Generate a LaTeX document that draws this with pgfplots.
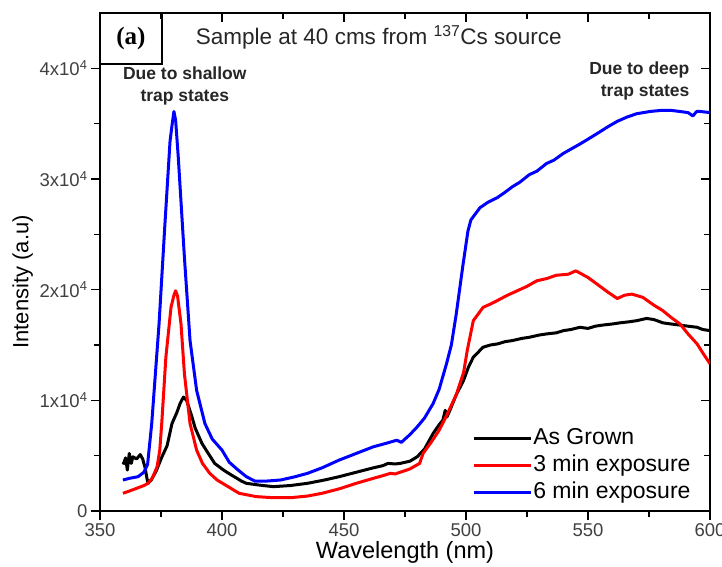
\documentclass[border=0pt]{standalone}
\usepackage{pgfplots}
\pgfplotsset{compat=1.18}
\usepackage{fontspec}
\setmainfont{Liberation Sans}
\newfontfamily\serifbold{Liberation Serif}
\begin{document}
\begin{tikzpicture}
\begin{axis}[
  scale only axis, width=610bp, height=498bp,
  xmin=350, xmax=600, ymin=0, ymax=45000,
  axis line style={line width=1.6bp},
  xtick={350,400,450,500,550,600},
  minor xtick={375,425,475,525,575},
  ytick={0,10000,20000,30000,40000},
  minor ytick={5000,15000,25000,35000},
  yticklabels={0,1x10\textsuperscript{4},2x10\textsuperscript{4},3x10\textsuperscript{4},4x10\textsuperscript{4}},
  scaled y ticks=false,
  xtick pos=lower, ytick pos=left,
  tick align=outside,
  major tick length=9bp, minor tick length=6bp,
  every tick/.style={black, line width=1.4bp},
  /pgf/number format/assume math mode=true,
  tick label style={font=\fontsize{18.5bp}{20bp}\selectfont, text=black!75},
  xlabel={Wavelength (nm)}, ylabel={Intensity (a.u)},
  xlabel style={font=\fontsize{23.5bp}{25bp}\selectfont, yshift=2bp},
  ylabel style={font=\fontsize{22bp}{24bp}\selectfont, at={(ticklabel cs:0.46)}},
  legend style={draw=none, fill=none, at={(rel axis cs:0.97,0.005)}, anchor=south east,
    font=\fontsize{23bp}{25bp}\selectfont, row sep=0bp, inner xsep=0pt,
    nodes={inner xsep=1bp, inner ysep=0bp, text height=19bp, text depth=8bp}},
  legend cell align=left,
  legend image code/.code={\draw[#1, line width=3bp] (0bp,0bp) -- (57bp,0bp);},
  every axis plot/.append style={line width=3bp, line join=round},
  clip=true,
]
\addplot[black] coordinates {
(359.5,4200)(360.5,4800)(361.2,3700)(362,5200)(362.8,4300)(363.5,4900)(365,4700)(366.5,5100)(367.5,4700)(368.5,3900)(369.2,3000)(369.7,2500)
(371,2800)(373,3600)(375.4,4900)(377.5,5900)(379.5,7900)(381.5,8900)(382.8,9700)(384.2,10300)(385.5,10000)(387.7,8500)(389,7500)(391.8,6100)(393.8,5400)(397,4300)(400,3800)(402,3500)(405,3100)(408,2700)(410,2500)
(415,2350)(421,2200)(428,2300)(435,2500)(442,2800)(448,3100)(455,3500)(462,3900)(466,4100)(468,4300)(471,4250)(473,4300)(477,4500)(480,4900)(483,5600)(486.5,7000)(489,7800)(490.5,8200)(491.5,9100)(492.2,8500)(493.4,9100)
(496,10500)(499,11800)(501,13000)(503,13900)(507,14800)(510,15000)(513,15100)(516,15300)(519,15400)(523,15600)(526,15700)(530,15900)(533,16000)(537,16100)(540,16300)(543,16400)(546.7,16600)(550,16500)(553,16700)(556,16800)(560,16900)(563,17000)(567,17100)(570,17200)(574,17400)(577,17300)(580.7,17000)(584,16900)(587.7,16800)(591,16700)(594.7,16600)(597,16400)(600,16300)
};
\addlegendentry{As Grown}
\addplot[red] coordinates {
(359.4,1600)(362,1800)(365.6,2100)(368,2300)(369.7,2500)(371.5,3000)(373.4,4000)(374.5,5500)(375.3,7900)(377,13900)(379.1,18400)(380.3,19500)(381,19900)(381.8,19400)(383.2,16900)(384.6,12400)(386.9,7900)(389.6,5500)(392,4300)(395,3400)(398,2800)(402.5,2200)(407,1600)
(414,1300)(421,1200)(428,1200)(435,1350)(441,1600)(448,2000)(455,2500)(462,2950)(466,3200)(469,3400)(471,3350)(473,3500)(477,3800)(481,4300)(482.4,5200)(486,6300)(489,7300)(492,8600)(496,10500)(499,12500)(500.5,14500)(503,17200)(507,18400)(510,18700)(512.7,19000)(517,19500)(521,19900)(525,20300)(529,20800)(533,21000)(537,21300)(542,21400)(545,21700)(546.7,21500)(550,21100)(553.7,20500)(558,19800)(562,19200)(565,19500)(568,19600)(572.5,19300)(577,18600)(580.7,18100)(584,17500)(587.7,16900)(591,16000)(594.7,15100)(597,14300)(600,13300)
};
\addlegendentry{3 min exposure}
\addplot[blue] coordinates {
(359.4,2800)(362,2950)(365.6,3100)(368,3500)(369.5,4200)(371.2,7900)(374.2,16900)(376.6,25900)(378.7,33400)(379.6,35000)(380.3,36100)(381,35300)(382.1,31900)(384.6,22900)(386.9,15400)(389.6,10900)(393,7900)(396,6500)(400,5500)(403,4400)(406.6,3700)(410,3100)(413.5,2700)
(418,2700)(424,2800)(430,3100)(435,3400)(441,3900)(448,4600)(455,5200)(462,5800)(467,6100)(471.7,6400)(473.5,6200)(477,6900)(480,7600)(483,8400)(486.5,9700)(489,11000)(492,13300)(494,15000)(496,17800)(498.8,22300)(500.8,25300)(502,26300)(505.7,27400)(509,27900)(512.7,28300)(516,28800)(519,29300)(522,29700)(526,30400)(529,30700)(533,31400)(536,31700)(539.8,32300)(543,32700)(547,33200)(550,33600)(553.7,34100)(558,34700)(561.9,35200)(566,35600)(570,35900)(575.4,36100)(580,36200)(584,36200)(587.7,36100)(591,36000)(593,35700)(594.5,36100)(596,36100)(600,36000)
};
\addlegendentry{6 min exposure}
\draw[line width=1.6bp] (rel axis cs:0,0.8976) rectangle (rel axis cs:0.1016,1);
\node[font=\serifbold\bfseries\fontsize{25bp}{27bp}\selectfont] at (rel axis cs:0.0508,0.949) {(a)};
\node[font=\fontsize{22.5bp}{24bp}\selectfont, text=black!85] at (rel axis cs:0.457,0.951) {Sample at 40 cms from \textsuperscript{137}Cs source};
\node[font=\bfseries\fontsize{17.5bp}{22bp}\selectfont, align=center, text=black!85] at (rel axis cs:0.139,0.853) {Due to shallow\\trap states};
\node[font=\bfseries\fontsize{17.5bp}{22bp}\selectfont, align=right, anchor=east, text=black!85] at (rel axis cs:0.972,0.863) {Due to deep\\trap states};
\end{axis}
\begin{axis}[
  scale only axis, width=610bp, height=498bp,
  xmin=350, xmax=600, ymin=0, ymax=45000,
  axis line style={draw=none},
  xtick={350,400,450,500,550,600},
  minor xtick={375,425,475,525,575},
  ytick={0,10000,20000,30000,40000},
  minor ytick={5000,15000,25000,35000},
  xticklabels={}, yticklabels={},
  xtick pos=upper, ytick pos=right,
  tick align=inside,
  major tick length=9bp, minor tick length=6bp,
  every tick/.style={black, line width=1.4bp},
]
\end{axis}
\pgfresetboundingbox
\path[use as bounding box] (-100bp,-56bp) rectangle (622bp,511bp);
\end{tikzpicture}
\end{document}
